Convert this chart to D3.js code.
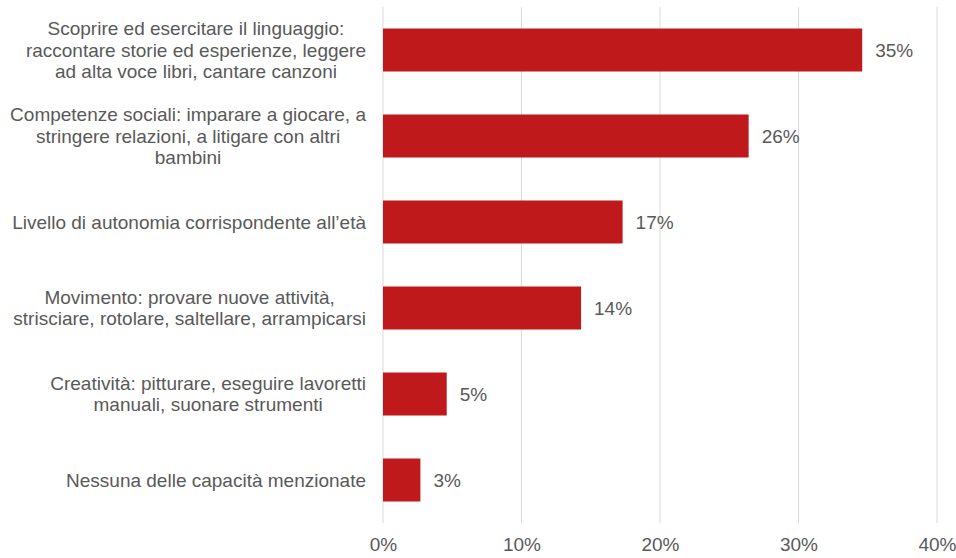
<!DOCTYPE html>
<html lang="it">
<head>
<meta charset="UTF-8">
<title>Capacità</title>
<script src="https://d3js.org/d3.v7.min.js"></script>
<style>
  body { margin: 0; background: #fff; }
  svg { display: block; font-family: "Liberation Sans", Arial, sans-serif; }
</style>
</head>
<body>
<script>
// categories, each split in the lines shown on the chart
var categories = [
  ["Scoprire ed esercitare il linguaggio:", "raccontare storie ed esperienze, leggere", "ad alta voce libri, cantare canzoni"],
  ["Competenze sociali: imparare a giocare, a", "stringere relazioni, a litigare con altri", "bambini"],
  ["Livello di autonomia corrispondente all\u2019età"],
  ["Movimento: provare nuove attività,", "strisciare, rotolare, saltellare, arrampicarsi"],
  ["Creatività: pitturare, eseguire lavoretti", "manuali, suonare strumenti"],
  ["Nessuna delle capacità menzionate"]
];
var values = [0.346, 0.264, 0.173, 0.143, 0.046, 0.027];
var ticks = [0, 0.1, 0.2, 0.3, 0.4];

var w = 956, h = 558;
var left = 383, right = 937;
var textColor = "#595959";
var fs = "19px";

var svg = d3.select("body").append("svg")
  .attr("width", w).attr("height", h);

var x = d3.scaleLinear().domain([0, 0.4]).range([left, right]);
var y = d3.scaleBand().domain(d3.range(categories.length))
  .range([7, 523]).paddingInner(0.5).paddingOuter(0.25);

var pct = d3.format(".0%");

// gridlines
svg.append("g").selectAll("line")
  .data(ticks).enter().append("line")
  .attr("x1", d => x(d)).attr("x2", d => x(d))
  .attr("y1", 7).attr("y2", 523)
  .attr("stroke", "#d9d9d9").attr("stroke-width", 1);

// x axis labels
var xAxis = d3.axisBottom(x).tickValues(ticks).tickFormat(pct).tickSize(0).tickPadding(15);
var gx = svg.append("g").attr("transform", "translate(0,523)").call(xAxis);
gx.select(".domain").remove();
gx.selectAll("text").attr("fill", textColor).style("font-size", fs)
  .style("font-family", "Liberation Sans, Arial, sans-serif");

// bars
svg.append("g").selectAll("rect")
  .data(values).enter().append("rect")
  .attr("x", x(0))
  .attr("y", (d, i) => y(i))
  .attr("width", d => x(d) - x(0))
  .attr("height", y.bandwidth())
  .attr("fill", "#c0191b");

// value labels
svg.append("g").selectAll("text")
  .data(values).enter().append("text")
  .attr("x", d => x(d) + 13)
  .attr("y", (d, i) => y(i) + y.bandwidth() / 2)
  .attr("dy", "0.35em")
  .attr("fill", textColor)
  .style("font-size", fs)
  .text(d => pct(d));

// category labels: block right-aligned, lines centred
var lineH = 21.5;
var labels = svg.append("g").selectAll("g")
  .data(categories).enter().append("g");

labels.each(function(lines, i) {
  var g = d3.select(this);
  var cy = y(i) + y.bandwidth() / 2;
  var texts = g.selectAll("text").data(lines).enter().append("text")
    .attr("fill", textColor)
    .style("font-size", fs)
    .attr("text-anchor", "middle")
    .attr("dy", "0.35em")
    .attr("y", (d, j) => cy + (j - (lines.length - 1) / 2) * lineH)
    .text(d => d);
  var maxW = 0;
  texts.each(function() { maxW = Math.max(maxW, this.getComputedTextLength()); });
  texts.attr("x", 366 - maxW / 2);
});
</script>
</body>
</html>
